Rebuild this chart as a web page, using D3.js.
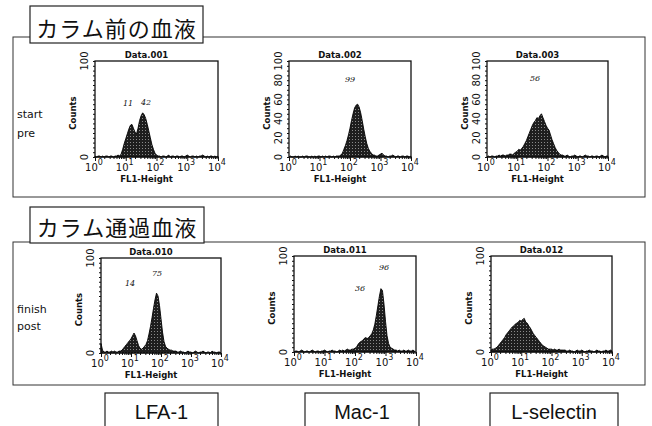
<!DOCTYPE html>
<meta charset="utf-8">
<style>
  body { margin: 0; background: #fff; }
  text { font-family: "DejaVu Sans", sans-serif; fill: #111; }
</style>
<script src="https://d3js.org/d3.v7.min.js"></script>
<div id="chart"></div>
<script>
// histogram counts, one value per 0.05 decade from 10^0 to 10^4 (81 channels)
var countsD001 = [1,0,1,1,0,1,0,1,1,0,1,1,0,1,1,2,1,
  3,8,14,19,24,29,33,34,30,26,24,30,38,43,46,44,40,34,27,20,13,8,4,2,1,
  1,0,1,1,0,1,2,0,1,1,0,1,1,0,1,1,0,1,2,1,0,1,1,0,1,0,1,1,2,1,0,1,0,1,1,0,1,0,1];
var countsD002 = [0,1,0,0,1,0,1,0,0,1,0,1,1,0,0,1,0,1,0,1,1,0,1,0,1,0,1,1,0,1,0,1,1,1,
  2,4,8,12,17,23,30,38,45,51,54,55,52,46,38,29,21,14,9,6,4,2,2,1,1,2,3,4,2,1,
  1,0,1,1,2,1,0,1,1,0,1,1,0,1,1,0,1];
var countsD003 = [0,1,0,1,1,0,1,1,
  2,1,2,2,1,2,2,3,3,2,4,5,6,8,7,9,11,14,17,21,25,29,33,36,38,41,40,43,45,41,37,33,30,28,23,18,14,10,7,5,3,2,2,
  1,1,2,1,0,1,1,2,1,0,1,1,0,1,2,1,1,0,1,1,0,1,1,0,1,2,1,0,1,1];
var countsD010 = [10,3,1,
  1,2,1,1,2,1,2,1,1,2,2,
  3,5,7,9,11,13,15,18,21,18,13,8,5,4,5,7,9,13,20,28,37,47,56,63,60,50,36,22,12,7,5,4,3,3,2,2,2,1,
  1,2,1,1,0,1,2,1,1,0,1,2,1,0,1,1,2,1,0,1,1,0,2,1,1,0,1,1,0];
var countsD011 = [0,1,1,0,1,2,1,0,1,1,0,1,2,1,0,1,1,0,1,1,2,1,0,1,1,2,1,1,0,1,2,
  1,2,1,2,3,2,2,3,3,4,5,8,10,11,12,14,15,14,15,17,19,23,29,38,48,58,66,64,50,32,17,9,5,4,3,2,2,
  1,2,1,1,2,1,1,2,1,1,2,1];
var countsD012 = [2,3,3,4,5,7,9,11,13,15,18,20,22,24,26,27,29,30,31,33,32,34,35,31,30,27,25,22,19,17,15,13,11,9,7,6,5,4,3,3,3,2,3,2,2,3,2,2,2,2,1,
  1,2,1,1,0,1,2,1,1,2,1,0,1,1,2,1,1,0,1,2,1,1,0,1,1,2,1,1,2,1];

var decades = [0, 1, 2, 3, 4];
var yTicksShort = [0, 100];
var yTicksLong = [0, 20, 40, 60, 80, 100];

var titles = ["Data.001", "Data.002", "Data.003", "Data.010", "Data.011", "Data.012"];
var notes = [
  [["11", 128, 106], ["42", 146, 105]],
  [["99", 350, 82]],
  [["56", 535, 81]],
  [["14", 130, 286], ["75", 157, 276]],
  [["96", 384, 270], ["36", 360, 291]],
  []
];
var rowLabels = [["start", "pre"], ["finish", "post"]];
var groupTitles = ["カラム前の血液", "カラム通過血液"];
var markers = ["LFA-1", "Mac-1", "L-selectin"];

var panels = [
  {x0: 95, x1: 218, y0: 61, y1: 157, counts: countsD001, yt: yTicksShort},
  {x0: 289, x1: 411, y0: 61, y1: 157, counts: countsD002, yt: yTicksLong},
  {x0: 487, x1: 608, y0: 61, y1: 157, counts: countsD003, yt: yTicksLong},
  {x0: 101, x1: 221, y0: 258, y1: 353, counts: countsD010, yt: yTicksShort},
  {x0: 294, x1: 416, y0: 256, y1: 352, counts: countsD011, yt: yTicksShort},
  {x0: 491, x1: 612, y0: 256, y1: 352, counts: countsD012, yt: yTicksShort}
];

var svg = d3.select("#chart").append("svg")
  .attr("width", 652).attr("height", 426);

// stipple fill like the scanned histograms
var pat = svg.append("defs").append("pattern")
  .attr("id", "dots").attr("width", 3).attr("height", 3)
  .attr("patternUnits", "userSpaceOnUse");
pat.append("rect").attr("width", 3).attr("height", 3).attr("fill", "#1e1e1e");
pat.append("rect").attr("x", 1).attr("y", 1).attr("width", 1).attr("height", 1).attr("fill", "#8a8a8a");

// group frames
[[13, 37, 645, 197], [13, 242, 645, 385]].forEach(function(b) {
  svg.append("rect").attr("x", b[0]).attr("y", b[1])
    .attr("width", b[2] - b[0]).attr("height", b[3] - b[1])
    .attr("fill", "none").attr("stroke", "#333").attr("stroke-width", 1);
});
[[30, 6, 203, 43, 37], [30, 207, 204, 243, 236]].forEach(function(b, i) {
  svg.append("rect").attr("x", b[0]).attr("y", b[1])
    .attr("width", b[2] - b[0]).attr("height", b[3] - b[1])
    .attr("fill", "#fff").attr("stroke", "#222").attr("stroke-width", 1.2);
  svg.append("text").attr("x", (b[0] + b[2]) / 2).attr("y", b[4])
    .attr("text-anchor", "middle")
    .style("font-family", "'Noto Sans CJK JP', sans-serif")
    .style("font-size", "22px").style("letter-spacing", "1px")
    .text(groupTitles[i]);
});

// row labels
[[118, 137], [313, 330]].forEach(function(ys, i) {
  ys.forEach(function(y, j) {
    svg.append("text").attr("x", 17).attr("y", y)
      .style("font-size", "11px").text(rowLabels[i][j]);
  });
});

// marker boxes at the bottom
[[105, 218], [305, 419], [490, 618]].forEach(function(b, i) {
  svg.append("rect").attr("x", b[0]).attr("y", 393)
    .attr("width", b[1] - b[0]).attr("height", 40)
    .attr("fill", "#fff").attr("stroke", "#222").attr("stroke-width", 1.2);
  svg.append("text").attr("x", (b[0] + b[1]) / 2).attr("y", 419)
    .attr("text-anchor", "middle")
    .style("font-family", "'Liberation Sans', sans-serif")
    .style("font-size", "20px").text(markers[i]);
});

panels.forEach(function(p, k) {
  var x = d3.scaleLinear().domain([0, 4]).range([p.x0, p.x1]);
  var y = d3.scaleLinear().domain([0, 100]).range([p.y1, p.y0]);
  var g = svg.append("g");

  var area = d3.area()
    .x(function(d, i) { return x(i * 0.05); })
    .y0(y(0))
    .y1(function(d) { return y(d); });
  g.append("path").datum(p.counts)
    .attr("d", area)
    .attr("fill", "url(#dots)")
    .attr("stroke", "#000").attr("stroke-width", 0.9);

  g.append("rect").attr("x", p.x0).attr("y", p.y0)
    .attr("width", p.x1 - p.x0).attr("height", p.y1 - p.y0)
    .attr("fill", "none").attr("stroke", "#111").attr("stroke-width", 1.3);

  // y minor ticks
  var yAxis = d3.axisLeft(y).tickValues(d3.range(0, 101, 5))
    .tickSize(2).tickFormat("");
  g.append("g").attr("transform", "translate(" + p.x0 + ",0)").call(yAxis)
    .call(function(s) { s.select(".domain").remove(); s.selectAll("line").attr("stroke", "#111"); });

  // x log ticks
  var minor = [];
  decades.slice(0, 4).forEach(function(d) {
    for (var m = 2; m < 10; m++) minor.push(d + Math.log10(m));
  });
  var xAxisMinor = d3.axisBottom(x).tickValues(minor).tickSize(2).tickFormat("");
  var xAxisMajor = d3.axisBottom(x).tickValues(decades).tickSize(4).tickFormat("");
  [xAxisMinor, xAxisMajor].forEach(function(ax) {
    g.append("g").attr("transform", "translate(0," + p.y1 + ")").call(ax)
      .call(function(s) { s.select(".domain").remove(); s.selectAll("line").attr("stroke", "#111"); });
  });

  decades.forEach(function(d) {
    var t = g.append("text").attr("x", x(d) - 1).attr("y", p.y1 + 14)
      .attr("text-anchor", "middle").style("font-size", "10px");
    t.append("tspan").text("10");
    t.append("tspan").attr("dy", -6).style("font-size", "8px").text(d);
  });
  g.append("text").attr("x", (p.x0 + p.x1) / 2 - 10).attr("y", p.y1 + 25)
    .attr("text-anchor", "middle").style("font-size", "8.5px").style("font-weight", "bold")
    .text("FL1-Height");

  p.yt.forEach(function(v) {
    g.append("text")
      .attr("transform", "translate(" + (p.x0 - 7) + "," + y(v) + ") rotate(-90)")
      .attr("text-anchor", "middle").style("font-size", "10px").text(v);
  });
  g.append("text")
    .attr("transform", "translate(" + (p.x0 - 19) + "," + ((p.y0 + p.y1) / 2 + 4) + ") rotate(-90)")
    .attr("text-anchor", "middle").style("font-size", "8.5px").style("font-weight", "bold")
    .text("Counts");

  g.append("text").attr("x", (p.x0 + p.x1) / 2 - 10).attr("y", p.y0 - 3)
    .attr("text-anchor", "middle").style("font-size", "8.5px").style("font-weight", "bold")
    .text(titles[k]);

  notes[k].forEach(function(n) {
    g.append("text").attr("x", n[1]).attr("y", n[2])
      .attr("text-anchor", "middle")
      .style("font-family", "'DejaVu Serif', serif").style("font-style", "italic")
      .style("font-size", "8px").text(n[0]);
  });
});
</script>
